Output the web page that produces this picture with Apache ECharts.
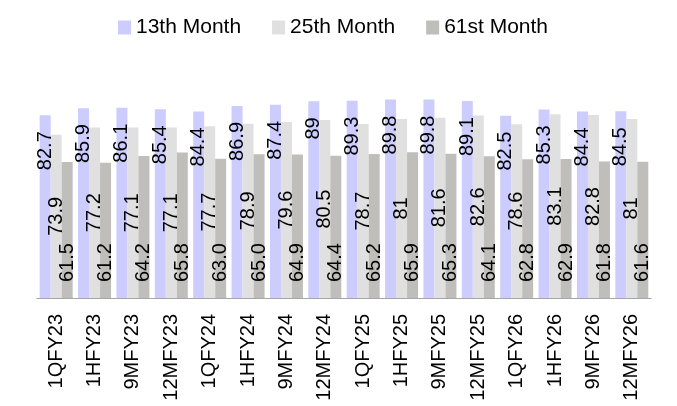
<!DOCTYPE html>
<html>
<head>
<meta charset="utf-8">
<script src="https://cdn.jsdelivr.net/npm/echarts@6/dist/echarts.min.js"></script>
<style>
  html, body { margin: 0; padding: 0; background: #fff; }
  #chart { width: 677px; height: 406px; }
</style>
</head>
<body>
<div id="chart"></div>
<script>
const categories = ['1QFY23', '1HFY23', '9MFY23', '12MFY23', '1QFY24', '1HFY24', '9MFY24', '12MFY24',
  '1QFY25', '1HFY25', '9MFY25', '12MFY25', '1QFY26', '1HFY26', '9MFY26', '12MFY26'];
const month13 = [82.7, 85.9, 86.1, 85.4, 84.4, 86.9, 87.4, 89, 89.3, 89.8, 89.8, 89.1, 82.5, 85.3, 84.4, 84.5];
const month25 = [73.9, 77.2, 77.1, 77.1, 77.7, 78.9, 79.6, 80.5, 78.7, 81, 81.6, 82.6, 78.6, 83.1, 82.8, 81];
const month61 = [61.5, 61.2, 64.2, 65.8, 63.0, 65.0, 64.9, 64.4, 65.2, 65.9, 65.3, 64.1, 62.8, 62.9, 61.8, 61.6];

const FONT = 'Liberation Sans';
const chart = echarts.init(document.getElementById('chart'));

const labelBase = {
  show: true,
  rotate: 90,
  color: '#000',
  fontFamily: FONT,
  fontSize: 20
};

chart.setOption({
  animation: false,
  legend: {
    top: 12,
    left: 113,
    itemWidth: 13,
    itemHeight: 14,
    itemGap: 31,
    icon: 'rect',
    textStyle: { fontFamily: FONT, fontSize: 21, color: '#000' },
    data: ['13th Month', '25th Month', '61st Month']
  },
  grid: { left: 37, right: 26, top: 77, bottom: 108 },
  xAxis: {
    type: 'category',
    data: categories,
    axisLine: { lineStyle: { color: '#A6A6A6', width: 1 } },
    axisTick: { show: false },
    axisLabel: {
      rotate: 90,
      interval: 0,
      margin: 16,
      color: '#000',
      fontFamily: FONT,
      fontSize: 20
    }
  },
  yAxis: {
    type: 'value',
    min: 0,
    max: 100,
    show: false,
    splitLine: { show: false }
  },
  series: [
    {
      name: '13th Month',
      type: 'bar',
      data: month13,
      barGap: '0%',
      barCategoryGap: '14%',
      itemStyle: { color: '#CCCCFF' },
      label: Object.assign({}, labelBase, {
        position: 'insideTop',
        distance: 16,
        align: 'right',
        verticalAlign: 'middle'
      })
    },
    {
      name: '25th Month',
      type: 'bar',
      data: month25,
      barGap: '0%',
      barCategoryGap: '14%',
      itemStyle: { color: '#E0E0E0' },
      label: Object.assign({}, labelBase, {
        position: 'inside',
        align: 'center',
        verticalAlign: 'middle'
      })
    },
    {
      name: '61st Month',
      type: 'bar',
      data: month61,
      barGap: '0%',
      barCategoryGap: '14%',
      itemStyle: { color: '#BFBEBA' },
      label: Object.assign({}, labelBase, {
        position: 'insideBottom',
        distance: 16,
        align: 'left',
        verticalAlign: 'middle',
        formatter: p => p.value.toFixed(1)
      })
    }
  ]
});
</script>
</body>
</html>
